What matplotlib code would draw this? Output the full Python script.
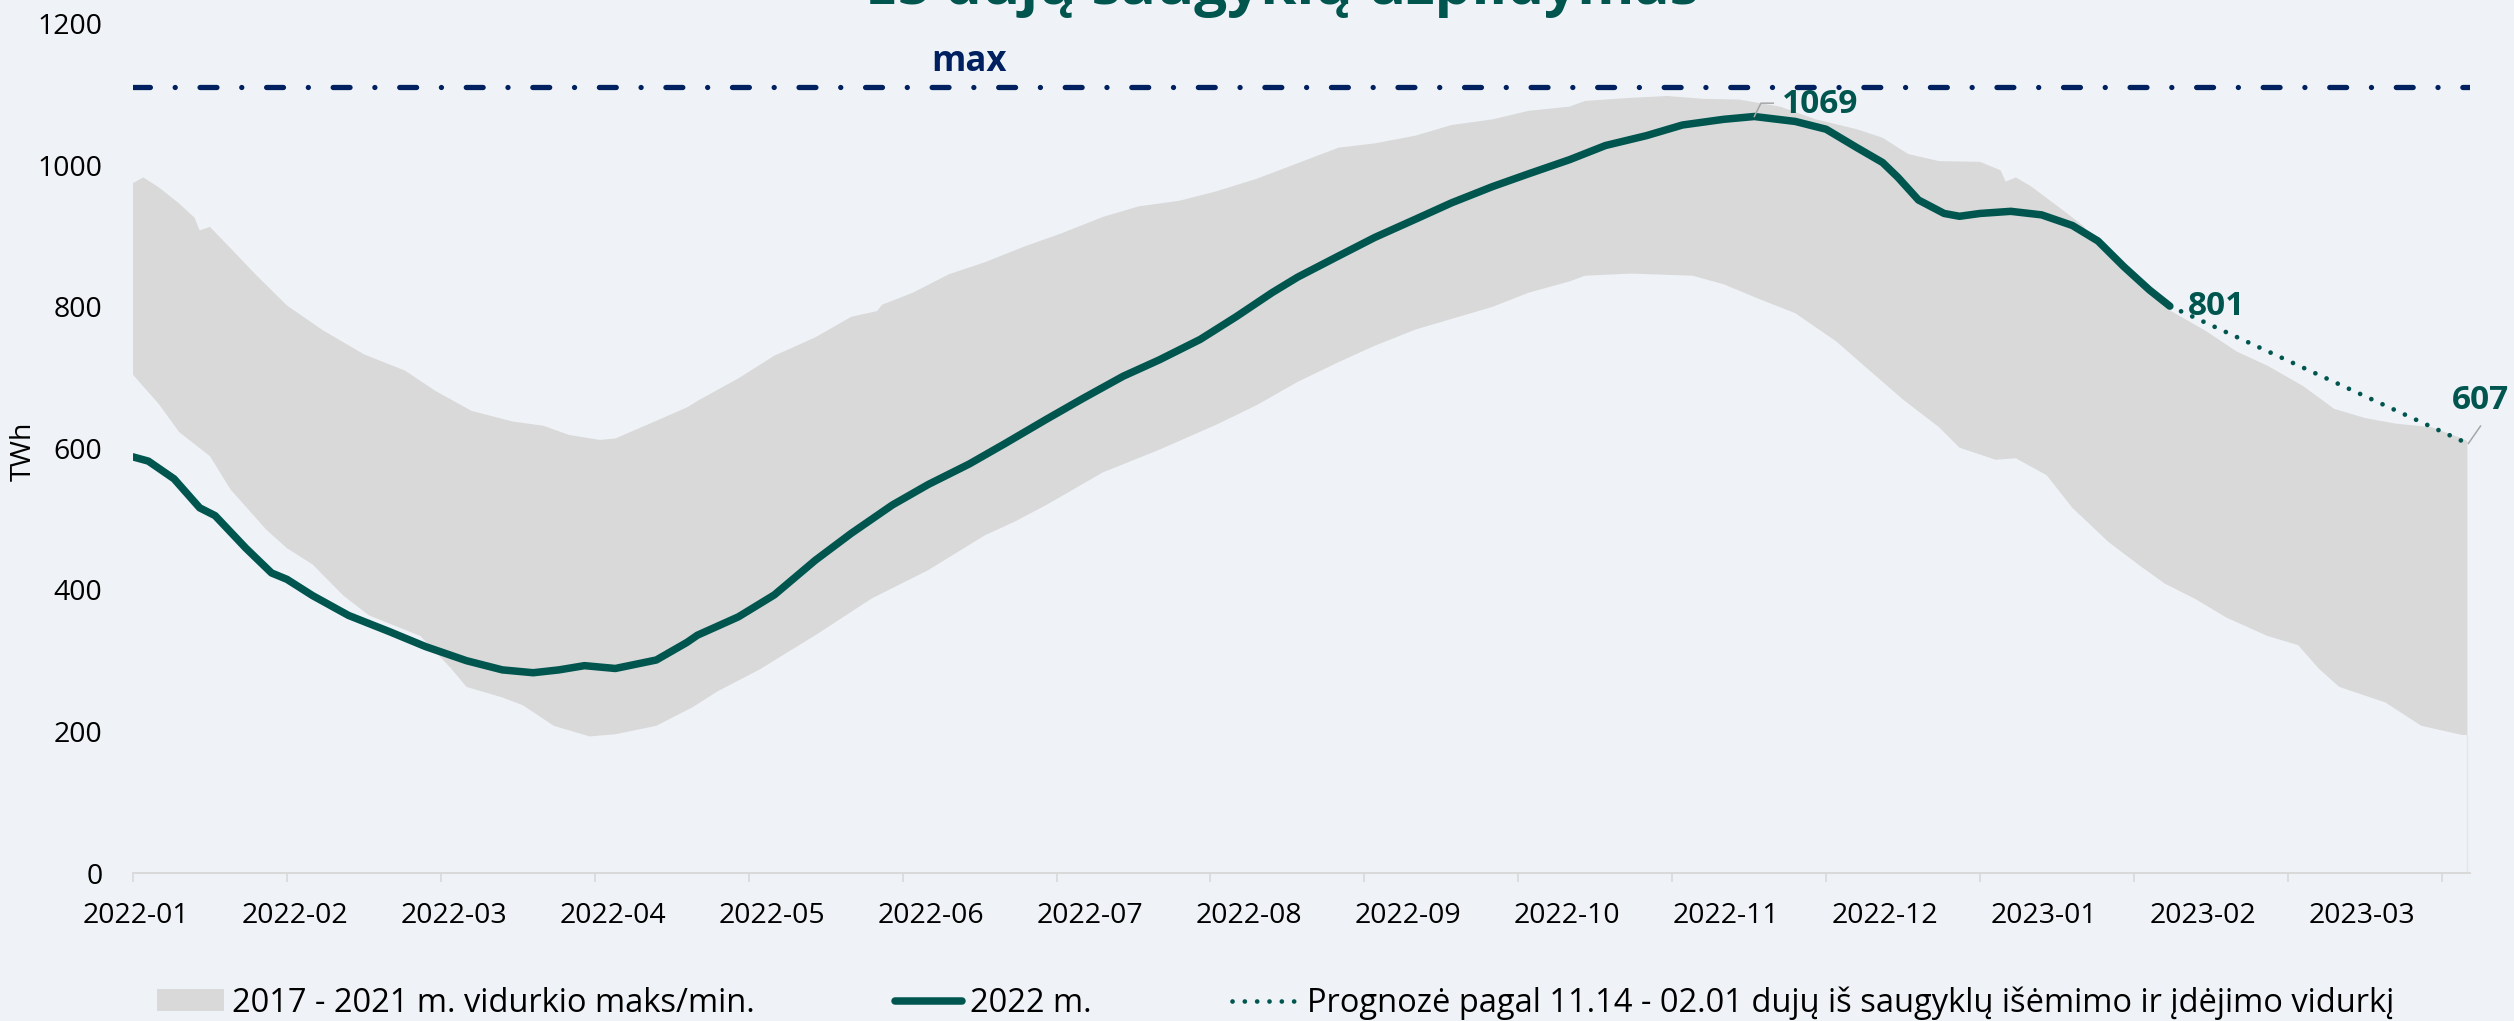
import matplotlib
matplotlib.use('Agg')
import matplotlib.pyplot as plt
import matplotlib.transforms as mtransforms
from matplotlib.patches import Patch
from matplotlib.lines import Line2D

plt.rcParams['font.family'] = ['Open Sans', 'DejaVu Sans']

# ---------------- data ----------------
TITLE = 'ES dujų saugyklų užpildymas'
Y_LABEL = 'TWh'
MONTH_LABELS = ['2022-01', '2022-02', '2022-03', '2022-04', '2022-05', '2022-06',
                '2022-07', '2022-08', '2022-09', '2022-10', '2022-11', '2022-12',
                '2023-01', '2023-02', '2023-03']
Y_TICKS = [0, 200, 400, 600, 800, 1000, 1200]
LEGEND_LABELS = ['2017 - 2021 m. vidurkio maks/min.',
                 '2022 m.',
                 'Prognozė pagal 11.14 - 02.01 dujų iš saugyklų išėmimo ir įdėjimo vidurkį']

# x values are day offsets from 2022-01-01
line_days = [0, 3, 8, 13, 16, 22, 27, 30, 35, 42, 50, 57, 65, 72, 78, 83, 88, 94, 102,
             108, 110, 114, 118, 125, 133, 140, 148, 155, 163, 170, 178, 185, 193, 200,
             208, 215, 222, 227, 235, 242, 250, 257, 265, 272, 280, 287, 295, 302, 310,
             316, 324, 330, 336, 341, 344, 348, 353, 356, 360, 366, 372, 378, 383, 388,
             393, 397]
line_vals = [588, 582, 557, 516, 505, 459, 424, 415, 392, 364, 341, 320, 300, 287, 283,
             287, 293, 289, 301, 326, 336, 349, 362, 393, 442, 480, 520, 549, 578, 607,
             641, 670, 702, 725, 754, 786, 820, 842, 872, 898, 924, 947, 970, 988, 1008,
             1028, 1042, 1057, 1065, 1069, 1062, 1051, 1025, 1004, 983, 951, 932, 928,
             932, 935, 930, 915, 893, 857, 824, 801]

upper_days = [0, 2, 5, 9, 12, 13, 15, 19, 24, 30, 37, 45, 53, 59, 66, 74, 80, 85, 91, 94,
              102, 108, 110, 118, 125, 133, 140, 145, 146, 152, 159, 166, 174, 181, 189,
              196, 204, 211, 219, 227, 235, 242, 250, 257, 265, 272, 280, 283, 291, 299,
              306, 313, 321, 328, 336, 341, 346, 352, 360, 364, 365, 367, 370, 377, 380,
              385, 391, 397, 404, 410, 416, 423, 429, 435, 441, 448, 454, 455]
upper_vals = [975, 983, 969, 946, 926, 908, 913, 883, 845, 802, 767, 733, 710, 681, 653,
              638, 632, 619, 612, 614, 639, 658, 667, 699, 731, 757, 786, 794, 803, 820,
              846, 863, 886, 904, 927, 942, 950, 963, 981, 1003, 1025, 1031, 1042, 1057,
              1065, 1077, 1083, 1091, 1095, 1098, 1094, 1093, 1083, 1065, 1051, 1039,
              1016, 1006, 1005, 993, 977, 983, 970, 932, 915, 876, 831, 795, 766, 737,
              717, 688, 656, 643, 635, 630, 614, 610]

lower_days = [0, 5, 9, 15, 19, 26, 30, 35, 41, 46, 56, 59, 62, 65, 72, 76, 82, 89, 94,
              102, 109, 114, 122, 133, 144, 155, 166, 172, 178, 189, 200, 211, 219, 227,
              235, 242, 250, 257, 265, 272, 280, 283, 292, 304, 310, 317, 324, 332, 338,
              345, 352, 356, 363, 367, 373, 378, 385, 391, 396, 402, 408, 416, 422, 426,
              430, 439, 446, 454, 455]
lower_vals = [704, 663, 623, 589, 542, 485, 459, 436, 392, 364, 335, 312, 289, 263, 248,
              237, 208, 193, 196, 208, 234, 257, 287, 336, 388, 428, 477, 497, 520, 566,
              598, 633, 661, 694, 722, 745, 768, 783, 800, 820, 836, 844, 847, 844, 832,
              811, 791, 751, 713, 669, 630, 601, 584, 586, 562, 516, 468, 435, 409, 387,
              361, 335, 322, 289, 263, 241, 208, 195, 195]

forecast_days = [397, 455]
forecast_vals = [801, 607]

MAX_VALUE = 1111
MAX_LABEL_DAY = 163

# ---------------- style ----------------
BG = '#eff3f7'
TEAL = '#00564f'
NAVY = '#002060'
BAND = '#d9d9d9'
AXIS_GRAY = '#d9d9d9'
LEADER = '#a6a6a6'
FS = 20.5
LEG_FS = 23.5

W, H = 2514, 1021
fig = plt.figure(figsize=(W / 100, H / 100), dpi=100, facecolor=BG)
ax = fig.add_axes([133 / W, 148 / H, 2337 / W, 849.2 / H])
ax.set_facecolor(BG)
ax.set_xlim(0, 455.5)
ax.set_ylim(0, 1200)

# band
ax.fill(upper_days + lower_days[::-1], upper_vals + lower_vals[::-1],
        color=BAND, lw=0, zorder=1)
ax.plot([lower_days[-1], lower_days[-1]], [0, lower_vals[-1]], color='#e4e7ea', lw=1, zorder=1)

# max line
ax.axhline(MAX_VALUE, color=NAVY, lw=3.8, linestyle=(0, (3.2, 4.7, 0.01, 4.7)),
           dash_capstyle='round', zorder=2)

# forecast
ax.plot(forecast_days, forecast_vals, color=TEAL, lw=3.4, linestyle=(0, (0.01, 2.6)),
        dash_capstyle='round', zorder=3)
# 2022 line
ax.plot(line_days, line_vals, color=TEAL, lw=5.4, solid_capstyle='round',
        solid_joinstyle='round', zorder=4)

# axes styling
for s in ['left', 'top', 'right']:
    ax.spines[s].set_visible(False)
ax.spines['bottom'].set_color(AXIS_GRAY)
ax.spines['bottom'].set_linewidth(1.5)

ax.set_yticks(Y_TICKS)
ax.tick_params(axis='y', length=0, pad=22, labelsize=FS)
ax.set_xticks([31 * k + 0.5 for k in range(len(MONTH_LABELS))], MONTH_LABELS)
ax.tick_params(axis='x', which='major', length=0, pad=21, labelsize=FS)
ax.set_xticks(list(range(0, 451, 30)), minor=True)
ax.tick_params(axis='x', which='minor', length=6.5, width=1.2, color=AXIS_GRAY)

fig.text(24 / W, 1 - 451 / H, Y_LABEL, rotation=90, ha='center', va='center', fontsize=FS)

# title (partly outside the canvas as in the reference)
fig.text(1282 / W, 1 - 3.5 / H, TITLE, ha='center', va='baseline', fontsize=42,
         fontweight='bold', color=TEAL)

# labels
ax.annotate('max', xy=(MAX_LABEL_DAY, MAX_VALUE), xytext=(0, 18), textcoords='offset points',
            ha='center', va='center', fontsize=25, fontweight='bold', color=NAVY)


def leader(x, y, pts):
    tr = (mtransforms.Affine2D().scale(1 / 72) + fig.dpi_scale_trans +
          mtransforms.ScaledTranslation(x, y, ax.transData))
    ax.add_line(Line2D([p[0] for p in pts], [p[1] for p in pts], transform=tr,
                       color=LEADER, lw=1.1, zorder=5, clip_on=False))


peak_i = line_vals.index(max(line_vals))
px, py = line_days[peak_i], line_vals[peak_i]
ax.annotate(str(py), xy=(px, py), xytext=(47.5, 8.3), textcoords='offset points',
            ha='center', va='center', fontsize=24, fontweight='bold', color=TEAL, zorder=6)
leader(px, py, [(0, 0), (4.8, 9.6), (13.7, 9.6)])

ax.annotate(str(line_vals[-1]), xy=(line_days[-1], line_vals[-1]), xytext=(33.4, -0.6),
            textcoords='offset points', ha='center', va='center', fontsize=24,
            fontweight='bold', color=TEAL, zorder=6)

ax.annotate(str(forecast_vals[-1]), xy=(forecast_days[-1], forecast_vals[-1]),
            xytext=(9.4, 31), textcoords='offset points', ha='center', va='center',
            fontsize=24, fontweight='bold', color=TEAL, zorder=6, annotation_clip=False)
leader(forecast_days[-1], forecast_vals[-1], [(0.7, 0), (9.4, 12.5)])

# legend
handles = [Patch(facecolor=BAND, edgecolor='none'),
           Line2D([], [], color=TEAL, lw=5.4, solid_capstyle='round'),
           Line2D([], [], color=TEAL, lw=3.4, linestyle=(0, (0.01, 2.6)), dash_capstyle='round')]
fig.legend(handles, LEGEND_LABELS, loc='center left', bbox_to_anchor=(157 / W, 1 - 1003 / H),
           ncol=3, frameon=False, fontsize=LEG_FS, handlelength=2.05, handleheight=0.65,
           handletextpad=0.25, columnspacing=4.3, borderpad=0, borderaxespad=0)

fig.savefig('out.png', dpi=100, facecolor=BG)
